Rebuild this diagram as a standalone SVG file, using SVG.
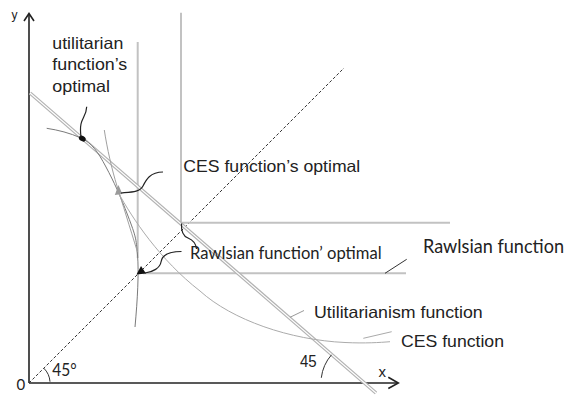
<svg xmlns="http://www.w3.org/2000/svg" width="570" height="395" viewBox="0 0 570 395">
<defs>
<style>
.ar{font-family:"Liberation Sans",Arial,sans-serif;font-size:16.5px;fill:#222}
.cal{font-family:Lato,"Open Sans",sans-serif;fill:#222}
.axis{stroke:#222;stroke-width:1.6;fill:none}
.lshape{stroke:#c2c2c2;stroke-width:2;fill:none}
.ptr{stroke:#222;stroke-width:1.2;fill:none}
.thin{fill:none;stroke-width:1}
</style>
</defs>
<rect width="570" height="395" fill="#fff"/>

<g id="axes">
<line class="axis" x1="29" y1="383" x2="29" y2="14"/>
<polyline class="axis" points="24,21 29,13.5 34,21" stroke-width="1.3"/>
<line class="axis" x1="29" y1="383" x2="398" y2="383"/>
<polyline class="axis" points="388.3,377.3 398.3,383 388.3,388.5" stroke-width="1.3"/>
<text class="ar" x="11.5" y="18.5" style="font-size:12px">y</text>
<text class="ar" x="378.5" y="376.7" style="font-size:15px">x</text>
<text class="cal" x="16.5" y="389.5" style="font-size:15px">0</text>
</g>

<g id="diagonal">
<line x1="29" y1="383" x2="344" y2="68" stroke="#333" stroke-width="1" stroke-dasharray="3 2"/>
<path d="M50,381.7 A21,21 0 0 0 43.8,368.2" class="thin" stroke="#333"/>
<text class="cal" x="52.3" y="376" style="font-size:17px" textLength="24.4" lengthAdjust="spacingAndGlyphs">45°</text>
</g>

<g id="rawlsian-function">
<polyline class="lshape" points="137.7,42 137.7,258"/>
<polyline class="lshape" points="143,273.3 406,273.3"/>
<polyline class="lshape" points="181,12.7 181,222.7 450,222.7"/>
<text class="cal" x="423" y="253.3" style="font-size:19px" textLength="141" lengthAdjust="spacingAndGlyphs">Rawlsian function</text>
</g>

<g id="utilitarianism-function">
<line x1="30" y1="93" x2="376" y2="393" stroke="#b3b3b3" stroke-width="3.6"/>
<line x1="30" y1="93" x2="376" y2="393" stroke="#fff" stroke-width="1.1"/>
<path d="M364,383 m-42.7,-5.2 A43,43 0 0 1 331.5,354.8" class="thin" stroke="#333"/>
<text class="ar" x="300" y="366.7" textLength="16.7" lengthAdjust="spacingAndGlyphs">45</text>
<text class="ar" x="314" y="318.3" textLength="168.7" lengthAdjust="spacingAndGlyphs">Utilitarianism function</text>
</g>

<g id="frontier">
<path d="M46.7,128.3 C58,130 70,133 81,138 S98,152 106,167 S120,195 128,216 S136,238 137.5,255 S137.5,300 135,327" class="thin" stroke="#7a7a7a"/>
<path d="M104.3,130 C107,148 112,170 117,186 S130,228 137.5,252" class="thin" stroke="#a0a0a0"/>
</g>

<g id="ces-function">
<path d="M118,192 C132,218 160,260 200,291 C232,320 290,340 345,342.5 C365,343.5 380,342.5 390,341.7" class="thin" stroke="#ababab" stroke-width="1.2"/>
<text class="ar" x="401" y="346.7" textLength="103" lengthAdjust="spacingAndGlyphs">CES function</text>
</g>

<g id="utilitarian-optimal">
<ellipse cx="82.3" cy="138.6" rx="3.6" ry="2.6" transform="rotate(30 82.3 138.6)" fill="#111"/>
<text class="ar" x="52.3" y="48.5" textLength="71" lengthAdjust="spacingAndGlyphs">utilitarian</text>
<text class="ar" x="52.3" y="70" textLength="75" lengthAdjust="spacingAndGlyphs">function’s</text>
<text class="ar" x="52.3" y="91.7" textLength="57.7" lengthAdjust="spacingAndGlyphs">optimal</text>
</g>

<g id="ces-optimal">
<polygon points="118.5,185 114.8,195 122.3,194" fill="#9a9a9a"/>
<text class="ar" x="183.3" y="171.7" textLength="177" lengthAdjust="spacingAndGlyphs">CES function’s optimal</text>
</g>

<g id="rawlsian-optimal">
<polygon points="141,266 136.5,274.5 146,273.5" fill="#111"/>
<text class="cal" x="190" y="258.5" style="font-size:17px" textLength="191.7" lengthAdjust="spacingAndGlyphs">Rawlsian function’ optimal</text>
</g>

<g id="connectors">
<path class="ptr" d="M86.7,106.7 C86.5,115 82,118 81,124 C80,129 80.5,133 81,137"/>
<path class="ptr" d="M163,172 C150,172 146,180 143,186 C140,192 132,192 121,193"/>
<path class="ptr" d="M181.5,251.5 C170,251.5 162,255 161,262 C160,268 153,272 145,273"/>
<path class="ptr" d="M181.5,223.5 C181,232 183,236 188,238 C193,240 196,244 196.5,249"/>
<line x1="385" y1="273.3" x2="406.7" y2="259.3" stroke="#333" stroke-width="1"/>
<line x1="290" y1="317.3" x2="304" y2="310.5" stroke="#999" stroke-width="1"/>
<line x1="363.3" y1="338.3" x2="391.7" y2="331.7" stroke="#aaa" stroke-width="1"/>
</g>
</svg>
